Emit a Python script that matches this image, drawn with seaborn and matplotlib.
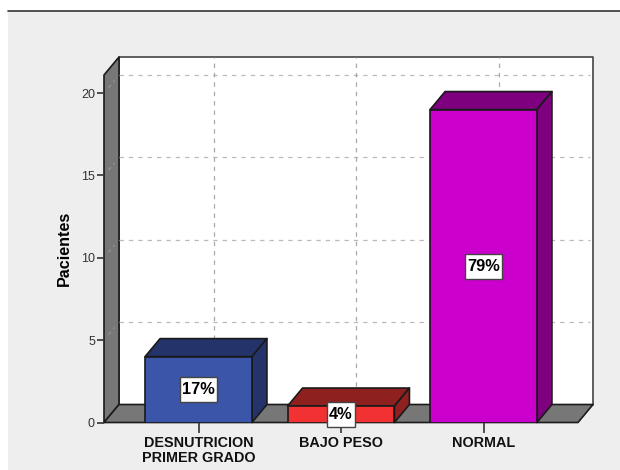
import matplotlib
matplotlib.use("Agg")
import matplotlib.pyplot as plt
from matplotlib.patches import Polygon, Rectangle
import seaborn as sns

categories = ["DESNUTRICION\nPRIMER GRADO", "BAJO PESO", "NORMAL"]
patients = [4, 1, 19]
percent_labels = ["17%", "4%", "79%"]
front_colors = ["#3B55A8", "#F23232", "#CC00CC"]
depth_colors = ["#24346B", "#8F2020", "#7F007F"]
y_ticks = [0, 5, 10, 15, 20]

EDGE = "#1A1A1A"
WALL = "#777777"
GRID = "#BBBBBB"
PANEL = "#EEEEEE"

W, H = 620, 470
LEFT, RIGHT, BASE, TOP = 104, 578, 422.5, 75
UNIT_X, UNIT_Y = 142.5, 16.47
DEPTH_PX = (15, 18)

sns.set_theme(style="white")
plt.rcParams["font.family"] = ["Liberation Sans", "DejaVu Sans"]

fig = plt.figure(figsize=(W / 100, H / 100), dpi=100, facecolor="white")
fig.add_artist(Rectangle((8 / W, 0), 1 - 8 / W, 1 - 11 / H, transform=fig.transFigure,
                         facecolor=PANEL, edgecolor="none", zorder=-5))
fig.add_artist(plt.Line2D([8 / W, 1], [1 - 10.5 / H] * 2, transform=fig.transFigure,
                          color="#333333", lw=1.2))

ax = fig.add_axes([LEFT / W, 1 - BASE / H, (RIGHT - LEFT) / W, (BASE - TOP) / H])
ax.patch.set_alpha(0)

sns.barplot(x=categories, y=patients, hue=categories, palette=front_colors, width=0.75,
            dodge=False, legend=False, edgecolor=EDGE, linewidth=1.2, saturation=1, ax=ax)

x0 = (LEFT - 198.5) / UNIT_X
x1 = (RIGHT - 198.5) / UNIT_X
y1 = (BASE - TOP) / UNIT_Y
ax.set_xlim(x0, x1)
ax.set_ylim(0, y1)
ddx, ddy = DEPTH_PX[0] / UNIT_X, DEPTH_PX[1] / UNIT_Y


def face(points, color, z, lw=1.2, edge=EDGE):
    ax.add_patch(Polygon(points, closed=True, facecolor=color, edgecolor=edge,
                         linewidth=lw, clip_on=False, zorder=z, joinstyle="round"))


# Back wall, side wall and floor of the box
face([(x0 + ddx, ddy), (x1 + ddx, ddy), (x1 + ddx, y1 + ddy), (x0 + ddx, y1 + ddy)], "white", 0.2, edge="#444444")
face([(x0, 0), (x0 + ddx, ddy), (x0 + ddx, y1 + ddy), (x0, y1)], WALL, 0.3)
face([(x0, 0), (x1, 0), (x1 + ddx, ddy), (x0 + ddx, ddy)], WALL, 0.3)

# Dashed grid on the back wall, continuing faintly across the side wall
for tick in y_ticks[1:]:
    ax.plot([x0 + ddx, x1 + ddx - 0.02], [tick + ddy] * 2, color=GRID, lw=0.9, ls=(0, (3.5, 4)),
            clip_on=False, zorder=0.4)
    ax.plot([x0 + ddx * 0.3, x0 + ddx * 0.7], [tick + ddy * 0.3, tick + ddy * 0.7], color="#959595",
            lw=0.9, ls=(0, (3, 3)), clip_on=False, zorder=0.4)
for pos in range(len(categories)):
    ax.plot([pos + ddx] * 2, [ddy, y1 + ddy], color="#A8A8A8", lw=0.9, ls=(0, (3.5, 4)),
            clip_on=False, zorder=0.4)

# Extruded top and side of each bar, plus its percentage tag
fig.canvas.draw()
renderer = fig.canvas.get_renderer()
for bar, side, tag in zip(ax.patches, depth_colors, percent_labels):
    bar.set_zorder(2)
    left, w, h = bar.get_x(), bar.get_width(), bar.get_height()
    right = left + w
    face([(left, h), (right, h), (right + ddx, h + ddy), (left + ddx, h + ddy)], side, 1.5)
    face([(right, 0), (right + ddx, ddy), (right + ddx, h + ddy), (right, h)], side, 1.5)
    centre = left + w / 2
    label = ax.text(centre, h / 2, tag, ha="center", va="center", fontsize=11.8, fontweight="bold",
                    color="black", zorder=3.5, clip_on=False)
    half_w = (label.get_window_extent(renderer).width + 5) / 2 / UNIT_X
    half_h = 12.5 / UNIT_Y
    ax.add_patch(Rectangle((centre - half_w, h / 2 - half_h), 2 * half_w, 2 * half_h, facecolor="white",
                           edgecolor="#444444", linewidth=1, clip_on=False, zorder=3))

ax.set_yticks(y_ticks)
ax.set_ylabel("Pacientes", fontsize=11.6, fontweight="bold", color="black")
ax.yaxis.set_label_coords((72 - LEFT) / (RIGHT - LEFT), 0.502)
ax.tick_params(axis="y", left=True, length=5, width=1.2, color="#333333", labelsize=9,
               labelcolor="#333333", pad=1.5)
ax.tick_params(axis="x", bottom=True, length=7, width=1.2, color="#333333", labelsize=10.4,
               labelcolor="#111111", pad=2.5)
for label in ax.get_xticklabels():
    label.set_fontweight("bold")
    label.set_linespacing(1.08)
for spine in ax.spines.values():
    spine.set_visible(False)

fig.savefig("out.png", dpi=100)
